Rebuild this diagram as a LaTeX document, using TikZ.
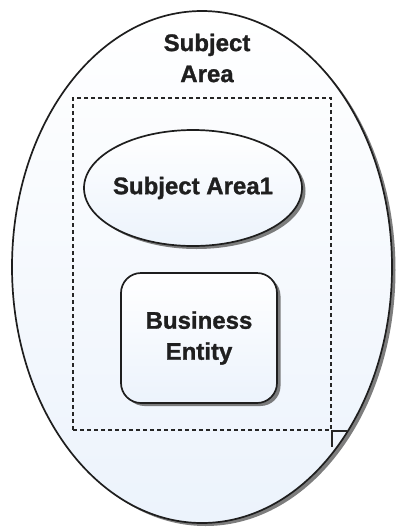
\documentclass[tikz,border=0pt]{standalone}
\usepackage{fontspec}
\setmainfont{Liberation Sans}
\newfontfamily\lblfont{Liberation Sans}[UprightFont=*-Bold, FakeBold=1.2]
\usetikzlibrary{shapes.geometric,shadows}
\definecolor{paleblue}{RGB}{236,243,252}
\definecolor{edge}{RGB}{30,30,30}
\tikzset{
  shape fill/.style={top color=white, bottom color=paleblue, middle color=paleblue!50},
  shade drop/.style={drop shadow={shadow xshift=3.5pt, shadow yshift=-3pt, fill=black!60, opacity=0.85}},
  label text/.style={font=\lblfont\fontsize{24}{31}\selectfont, text=black!88, align=center},
}
\begin{document}
\begin{tikzpicture}[x=1pt,y=-1pt]
\useasboundingbox (0,0) rectangle (399,531);
% outer ellipse
\node[ellipse, draw=edge, line width=1.7pt, shape fill, shade drop,
      minimum width=380pt, minimum height=512pt, inner sep=0pt] (outer) at (202,267) {};
\node[label text] (title) at (207,58) {Subject\\Area};
% dashed frame
\node[draw=black!85, dash pattern=on 4pt off 3pt, line width=1.5pt,
      minimum width=258pt, minimum height=332pt, inner sep=0pt] (frame) at (202,264) {};
\coordinate (c1) at ([xshift=15pt]frame.south east);
\coordinate (c2) at ([yshift=-16pt]frame.south east);
\draw[black!85, line width=1.6pt] (c1) -- (frame.south east) -- (c2);
% subject area1 ellipse
\node[ellipse, draw=edge, line width=1.7pt, shape fill, shade drop,
      minimum width=218pt, minimum height=116pt, inner sep=0pt] (sa1) at (193,188) {};
\node[label text] (sa1t) at (sa1.center) {Subject Area1};
% business entity box
\node[rectangle, rounded corners=20pt, draw=edge, line width=1.7pt, shape fill, shade drop,
      minimum width=156pt, minimum height=130pt, inner sep=0pt] (be) at (199,338) {};
\node[label text] (bet) at (be.center) {Business\\Entity};
\end{tikzpicture}
\end{document}
